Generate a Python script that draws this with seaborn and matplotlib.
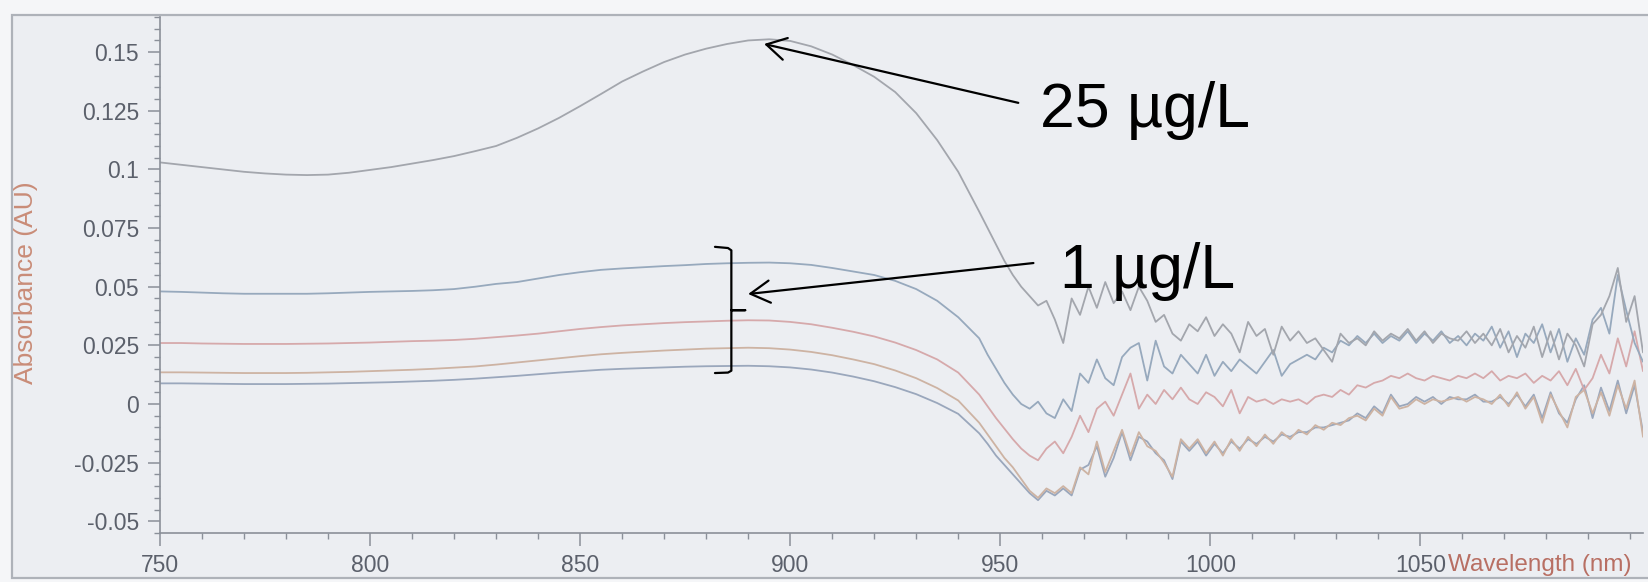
import numpy as np
import pandas as pd
import matplotlib
matplotlib.use('Agg')
import matplotlib.pyplot as plt
import seaborn as sns
from matplotlib.patches import Rectangle
from matplotlib.ticker import FixedLocator, MultipleLocator


# wavelength grid: coarse on the smooth part, finer where the spectra get noisy
wl = np.concatenate([np.arange(750, 945, 5), np.arange(945, 1104, 2)])

# 25 ug/L
c25_smooth = [0.103, 0.102, 0.101, 0.100, 0.099, 0.0983, 0.0978, 0.0976, 0.0978, 0.0986,
              0.0998, 0.101, 0.1025, 0.104, 0.1057, 0.1078, 0.110, 0.1135, 0.1175, 0.122,
              0.127, 0.1322, 0.1375, 0.1418, 0.1458, 0.149, 0.1515, 0.1535, 0.155, 0.1555,
              0.1548, 0.1525, 0.149, 0.1445, 0.1395, 0.133, 0.124, 0.1125, 0.099]
c25_noise = [0.082, 0.075, 0.068, 0.061, 0.055, 0.050, 0.046, 0.042, 0.044, 0.036,
             0.026, 0.045, 0.038, 0.050, 0.041, 0.052, 0.043, 0.048, 0.040, 0.050,
             0.044, 0.035, 0.038, 0.030, 0.027, 0.034, 0.031, 0.037, 0.029, 0.034,
             0.030, 0.022, 0.035, 0.029, 0.032, 0.021, 0.033, 0.027, 0.031, 0.026,
             0.028, 0.023, 0.018, 0.030, 0.026, 0.028, 0.025, 0.031, 0.027, 0.030,
             0.028, 0.032, 0.027, 0.031, 0.026, 0.030, 0.028, 0.027, 0.031, 0.026,
             0.030, 0.025, 0.032, 0.022, 0.029, 0.024, 0.033, 0.020, 0.031, 0.019,
             0.030, 0.025, 0.016, 0.034, 0.038, 0.046, 0.058, 0.035, 0.046, 0.022]

# 1 ug/L replicates
blue1_smooth = [0.048, 0.0478, 0.0475, 0.0472, 0.047, 0.047, 0.047, 0.047, 0.0472, 0.0475,
                0.0478, 0.048, 0.0482, 0.0485, 0.049, 0.050, 0.0512, 0.052, 0.0535, 0.055,
                0.0562, 0.0572, 0.0578, 0.0583, 0.0588, 0.0592, 0.0597, 0.060, 0.0602, 0.0603,
                0.060, 0.0593, 0.058, 0.0565, 0.055, 0.0525, 0.049, 0.044, 0.037]
blue1_noise = [0.028, 0.021, 0.015, 0.009, 0.004, 0.000, -0.002, 0.001, -0.004, -0.006,
               0.002, -0.003, 0.013, 0.009, 0.019, 0.011, 0.008, 0.020, 0.024, 0.026,
               0.010, 0.027, 0.016, 0.013, 0.021, 0.017, 0.013, 0.021, 0.012, 0.018,
               0.014, 0.019, 0.016, 0.013, 0.018, 0.023, 0.012, 0.017, 0.019, 0.021,
               0.019, 0.024, 0.022, 0.027, 0.025, 0.029, 0.026, 0.030, 0.026, 0.029,
               0.027, 0.031, 0.026, 0.030, 0.027, 0.031, 0.026, 0.029, 0.025, 0.030,
               0.027, 0.033, 0.024, 0.031, 0.020, 0.030, 0.026, 0.034, 0.022, 0.032,
               0.018, 0.028, 0.021, 0.036, 0.041, 0.030, 0.055, 0.040, 0.026, 0.018]

red_smooth = [0.026, 0.026, 0.0258, 0.0257, 0.0256, 0.0256, 0.0256, 0.0257, 0.0258, 0.026,
              0.0262, 0.0265, 0.0268, 0.027, 0.0273, 0.0278, 0.0285, 0.0292, 0.030, 0.031,
              0.032, 0.0328, 0.0335, 0.034, 0.0345, 0.0349, 0.0352, 0.0355, 0.0357, 0.0356,
              0.035, 0.034, 0.0325, 0.0308, 0.0288, 0.0262, 0.023, 0.019, 0.0134]
red_noise = [0.004, -0.001, -0.006, -0.0105, -0.015, -0.019, -0.022, -0.024, -0.019, -0.016,
             -0.021, -0.014, -0.005, -0.012, -0.002, 0.001, -0.005, 0.004, 0.013, -0.002,
             0.004, 0.000, 0.006, 0.002, 0.007, 0.002, 0.000, 0.005, 0.003, -0.001,
             0.006, -0.004, 0.003, 0.001, 0.002, 0.000, 0.002, 0.001, 0.002, 0.000,
             0.003, 0.004, 0.003, 0.006, 0.004, 0.008, 0.007, 0.009, 0.010, 0.012,
             0.011, 0.013, 0.011, 0.010, 0.012, 0.011, 0.010, 0.012, 0.011, 0.013,
             0.011, 0.014, 0.010, 0.012, 0.011, 0.013, 0.009, 0.012, 0.010, 0.014,
             0.008, 0.015, 0.006, 0.011, 0.021, 0.013, 0.028, 0.016, 0.031, 0.014]

orange_smooth = [0.0135, 0.0135, 0.0134, 0.0133, 0.0132, 0.0132, 0.0132, 0.0133, 0.0135, 0.0137,
                 0.014, 0.0143, 0.0146, 0.015, 0.0155, 0.016, 0.0168, 0.0177, 0.0186, 0.0195,
                 0.0204, 0.0212, 0.0218, 0.0223, 0.0228, 0.0232, 0.0236, 0.0238, 0.024, 0.0238,
                 0.0232, 0.0222, 0.0208, 0.019, 0.017, 0.0143, 0.011, 0.0068, 0.0015]
orange_noise = [-0.008, -0.013, -0.018, -0.023, -0.027, -0.032, -0.037, -0.040, -0.036, -0.038,
                -0.035, -0.038, -0.027, -0.030, -0.016, -0.029, -0.020, -0.011, -0.022, -0.012,
                -0.018, -0.020, -0.025, -0.031, -0.015, -0.019, -0.015, -0.021, -0.016, -0.022,
                -0.015, -0.020, -0.014, -0.018, -0.013, -0.017, -0.012, -0.015, -0.011, -0.013,
                -0.009, -0.011, -0.008, -0.009, -0.006, -0.005, -0.007, -0.002, -0.005, 0.003,
                -0.002, -0.001, 0.002, 0.000, 0.002, 0.001, 0.002, 0.003, 0.001, 0.003,
                0.002, 0.000, 0.004, -0.001, 0.005, -0.002, 0.003, -0.008, 0.004, -0.003,
                -0.010, 0.003, 0.006, -0.004, 0.005, -0.005, 0.008, -0.002, 0.010, -0.014]

blue2_smooth = [0.0088, 0.0088, 0.0087, 0.0086, 0.0085, 0.0085, 0.0085, 0.0086, 0.0087, 0.0089,
                0.0091, 0.0093, 0.0096, 0.0099, 0.0103, 0.0108, 0.0114, 0.012, 0.0127, 0.0134,
                0.014, 0.0146, 0.015, 0.0153, 0.0156, 0.0159, 0.0161, 0.0162, 0.0163, 0.0161,
                0.0156, 0.0147, 0.0134, 0.0117, 0.0097, 0.0072, 0.0042, 0.0004, -0.0042]
blue2_noise = [-0.0125, -0.017, -0.022, -0.026, -0.030, -0.034, -0.038, -0.041, -0.037, -0.039,
               -0.036, -0.039, -0.028, -0.026, -0.018, -0.031, -0.023, -0.012, -0.024, -0.014,
               -0.016, -0.021, -0.024, -0.032, -0.016, -0.020, -0.016, -0.022, -0.017, -0.021,
               -0.016, -0.019, -0.015, -0.017, -0.014, -0.016, -0.013, -0.014, -0.012, -0.012,
               -0.010, -0.010, -0.009, -0.008, -0.007, -0.004, -0.006, -0.001, -0.004, 0.004,
               -0.001, 0.000, 0.003, 0.001, 0.003, 0.000, 0.003, 0.002, 0.002, 0.004,
               0.001, 0.001, 0.003, 0.000, 0.004, -0.001, 0.004, -0.006, 0.005, -0.004,
               -0.008, 0.002, 0.008, -0.006, 0.007, -0.003, 0.010, -0.004, 0.008, -0.012]

series = {
    '1 ug/L c': blue2_smooth + blue2_noise,
    '1 ug/L b': orange_smooth + orange_noise,
    '1 ug/L a': red_smooth + red_noise,
    '1 ug/L top': blue1_smooth + blue1_noise,
    '25 ug/L': c25_smooth + c25_noise,
}
colors = {
    '1 ug/L c': '#9aa7bc',
    '1 ug/L b': '#cdb3a3',
    '1 ug/L a': '#d6a9ab',
    '1 ug/L top': '#97a9bd',
    '25 ug/L': '#a3a6ad',
}

y_ticks = [-0.05, -0.025, 0, 0.025, 0.05, 0.075, 0.1, 0.125, 0.15]
y_labels = ['-0.05', '-0.025', '0', '0.025', '0.05', '0.075', '0.1', '0.125', '0.15']
x_ticks = [750, 800, 850, 900, 950, 1000, 1050]
x_labels = ['750', '800', '850', '900', '950', '1000', '1050']


def main():
    frames = []
    for name, vals in series.items():
        assert len(vals) == len(wl)
        frames.append(pd.DataFrame({'wavelength': wl, 'absorbance': vals, 'sample': name}))
    df = pd.concat(frames, ignore_index=True)

    sns.set_style('white')
    plt.rcParams['font.family'] = ['Liberation Sans', 'DejaVu Sans']

    W, H = 1648, 582
    fig = plt.figure(figsize=(W / 100, H / 100), dpi=100)
    fig.patch.set_facecolor('#f5f6f8')

    # scanned page frame, behind everything
    frame = Rectangle((12 / W, 4 / H), 1.0, (578 - 15) / H, transform=fig.transFigure,
                      facecolor='#eceef2', edgecolor='#aeb2b9', lw=1.6, zorder=-10)
    fig.patches.append(frame)

    ax = fig.add_axes([160 / W, 1 - 533 / H, (1643 - 160) / W, (533 - 17) / H])
    ax.set_zorder(1)
    ax.patch.set_alpha(0)

    sns.lineplot(data=df, x='wavelength', y='absorbance', hue='sample', palette=colors,
                 estimator=None, sort=False, legend=False, linewidth=1.3, ax=ax)

    ax.set_xlim(750, 1103)
    ax.set_ylim(-0.055, 0.165)

    ax.yaxis.set_major_locator(FixedLocator(y_ticks))
    ax.set_yticklabels(y_labels)
    ax.yaxis.set_minor_locator(MultipleLocator(0.005))
    ax.xaxis.set_major_locator(FixedLocator(x_ticks))
    ax.set_xticklabels(x_labels)
    ax.xaxis.set_minor_locator(MultipleLocator(10))

    tick_col = '#8b9099'
    ax.tick_params(axis='both', which='major', direction='out', length=9, width=1.1,
                   color=tick_col, labelcolor='#5b606b', labelsize=16.5, pad=6)
    ax.tick_params(axis='both', which='minor', direction='out', length=4.5, width=1.0,
                   color=tick_col)
    ax.tick_params(axis='y', which='both', left=True)
    ax.tick_params(axis='x', which='both', bottom=True)

    for side in ['top', 'right']:
        ax.spines[side].set_visible(False)
    for side in ['left', 'bottom']:
        ax.spines[side].set_color(tick_col)
        ax.spines[side].set_linewidth(1.2)

    ax.set_xlabel('')
    ax.set_ylabel('')
    ax.annotate('Wavelength (nm)', xy=(1050, 0), xycoords=('data', 'axes fraction'),
                xytext=(20, -15), textcoords='offset points', ha='left', va='top',
                fontsize=17.5, color='#b86f63', annotation_clip=False)
    fig.text(26 / W, 1 - 283 / H, 'Absorbance (AU)', rotation=90, ha='center', va='center',
             fontsize=19, color='#c98c78')

    # hand-drawn style annotations
    arrow = dict(arrowstyle='->,head_length=0.7,head_width=0.4', color='black', lw=1.6,
                 shrinkA=0, shrinkB=0, mutation_scale=20)
    ax.annotate('', xy=(893.8, 0.1535), xytext=(954.3, 0.1284), arrowprops=arrow)
    ax.text(959.5, 0.118, '25 µg/L', fontsize=45, color='black', ha='left', va='baseline')
    ax.annotate('', xy=(890.0, 0.0469), xytext=(957.9, 0.0601), arrowprops=arrow)
    ax.text(964.3, 0.0495, '1 µg/L', fontsize=45, color='black', ha='left', va='baseline')

    bx = [882.1, 885.2, 886.0, 886.0, 889.3, 886.0, 886.0, 885.2, 882.1]
    by = [0.0670, 0.0665, 0.0655, 0.0400, 0.0400, 0.0400, 0.0142, 0.0134, 0.0132]
    ax.plot(bx, by, color='black', lw=1.6, solid_joinstyle='round')

    fig.savefig('out.png', dpi=100, facecolor=fig.get_facecolor())


if __name__ == '__main__':
    main()
